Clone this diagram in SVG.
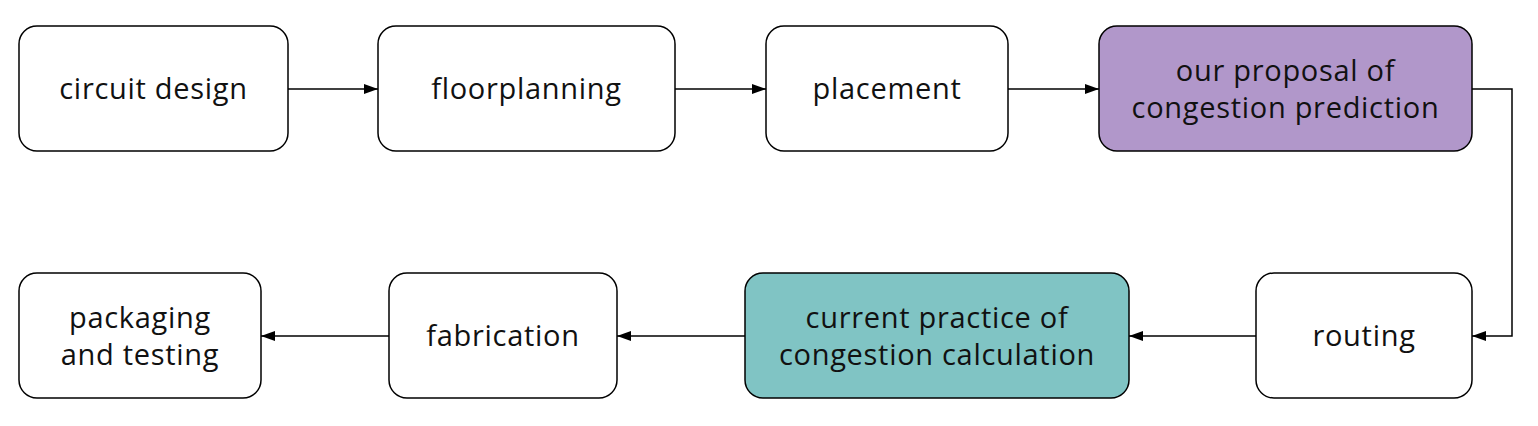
<svg xmlns="http://www.w3.org/2000/svg" width="1538" height="426" viewBox="0 0 1538 426">
<style>
.box{stroke:#000;stroke-width:1.5;fill:#fff}
.t{font-family:"Open Sans","Noto Sans","Liberation Sans",sans-serif;font-size:29px;letter-spacing:0.7px;fill:#111;text-anchor:middle}
.c{fill:none;stroke:#000;stroke-width:1.5}
</style>
<defs>
<marker id="ah" viewBox="0 0 14 10" refX="14" refY="5" markerWidth="14" markerHeight="10" markerUnits="userSpaceOnUse" orient="auto">
<path d="M0,0 L14,5 L0,10 Z" fill="#000"/>
</marker>
</defs>
<rect width="1538" height="426" fill="#fff"/>
<g id="connectors">
<line class="c" x1="288" y1="89" x2="378" y2="89" marker-end="url(#ah)"/>
<line class="c" x1="675" y1="89" x2="766" y2="89" marker-end="url(#ah)"/>
<line class="c" x1="1008" y1="89" x2="1099" y2="89" marker-end="url(#ah)"/>
<polyline class="c" points="1472,89 1512,89 1512,336 1472,336" marker-end="url(#ah)"/>
<line class="c" x1="1256" y1="336" x2="1129" y2="336" marker-end="url(#ah)"/>
<line class="c" x1="745" y1="336" x2="617" y2="336" marker-end="url(#ah)"/>
<line class="c" x1="389" y1="336" x2="261" y2="336" marker-end="url(#ah)"/>
</g>
<g id="n1"><rect class="box" x="19" y="26" width="269" height="125" rx="18"/><text class="t" x="153.5" y="99">circuit design</text></g>
<g id="n2"><rect class="box" x="378" y="26" width="297" height="125" rx="18"/><text class="t" x="526.5" y="99">floorplanning</text></g>
<g id="n3"><rect class="box" x="766" y="26" width="242" height="125" rx="18"/><text class="t" x="887" y="99">placement</text></g>
<g id="n4"><rect class="box" x="1099" y="26" width="373" height="125" rx="18" style="fill:#b197ca"/><text class="t" x="1285.5" y="81">our proposal of</text><text class="t" x="1285.5" y="118">congestion prediction</text></g>
<g id="n5"><rect class="box" x="1256" y="273" width="216" height="125" rx="18"/><text class="t" x="1364" y="346">routing</text></g>
<g id="n6"><rect class="box" x="745" y="273" width="384" height="125" rx="18" style="fill:#80c4c4"/><text class="t" x="937" y="328">current practice of</text><text class="t" x="937" y="365">congestion calculation</text></g>
<g id="n7"><rect class="box" x="389" y="273" width="228" height="125" rx="18"/><text class="t" x="503" y="346">fabrication</text></g>
<g id="n8"><rect class="box" x="19" y="273" width="242" height="125" rx="18"/><text class="t" x="140" y="328">packaging</text><text class="t" x="140" y="365">and testing</text></g>
</svg>
